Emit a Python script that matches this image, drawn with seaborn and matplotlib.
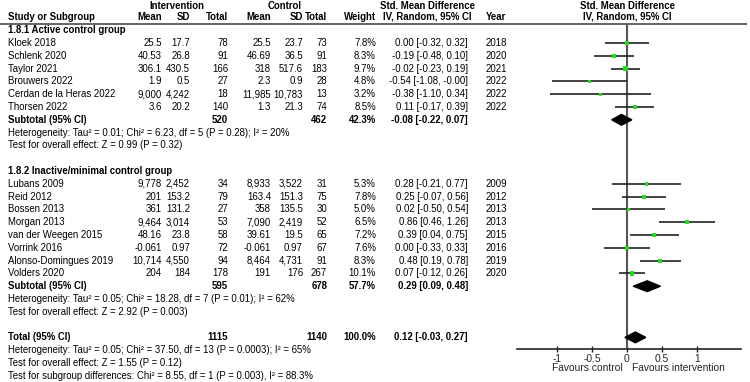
"""Forest plot — Std. Mean Difference, IV, Random, 95% CI"""

import numpy as np
import pandas as pd
import matplotlib.pyplot as plt
import seaborn as sns
from matplotlib.patches import Polygon

# ---- 数据 ----
study = ['Kloek 2018', 'Schlenk 2020', 'Taylor 2021', 'Brouwers 2022',
         'Cerdan de la Heras 2022', 'Thorsen 2022',
         'Lubans 2009', 'Reid 2012', 'Bossen 2013', 'Morgan 2013',
         'van der Weegen 2015', 'Vorrink 2016', 'Alonso-Domingues 2019', 'Volders 2020']
group = [1, 1, 1, 1, 1, 1, 2, 2, 2, 2, 2, 2, 2, 2]
year = ['2018', '2020', '2021', '2022', '2022', '2022',
        '2009', '2012', '2013', '2013', '2015', '2016', '2019', '2020']
int_mean = ['25.5', '40.53', '306.1', '1.9', '9,000', '3.6',
            '9,778', '201', '361', '9,464', '48.16', '-0.061', '10,714', '204']
int_sd = ['17.7', '26.8', '430.5', '0.5', '4,242', '20.2',
          '2,452', '153.2', '131.2', '3,014', '23.8', '0.97', '4,550', '184']
int_n = ['78', '91', '166', '27', '18', '140',
         '34', '79', '27', '53', '58', '72', '94', '178']
ctl_mean = ['25.5', '46.69', '318', '2.3', '11,985', '1.3',
            '8,933', '163.4', '358', '7,090', '39.61', '-0.061', '8,464', '191']
ctl_sd = ['23.7', '36.5', '517.6', '0.9', '10,783', '21.3',
          '3,522', '151.3', '135.5', '2,419', '19.5', '0.97', '4,731', '176']
ctl_n = ['73', '91', '183', '28', '13', '74',
         '31', '75', '30', '52', '65', '67', '91', '267']
weight = [7.8, 8.3, 9.7, 4.8, 3.2, 8.5, 5.3, 7.8, 5.0, 6.5, 7.2, 7.6, 8.3, 10.1]
smd = [0.00, -0.19, -0.02, -0.54, -0.38, 0.11,
       0.28, 0.25, 0.02, 0.86, 0.39, 0.00, 0.48, 0.07]
ci_lo = [-0.32, -0.48, -0.23, -1.08, -1.10, -0.17,
         -0.21, -0.07, -0.50, 0.46, 0.04, -0.33, 0.19, -0.12]
ci_hi = [0.32, 0.10, 0.19, -0.00, 0.34, 0.39,
         0.77, 0.56, 0.54, 1.26, 0.75, 0.33, 0.78, 0.26]

group_title = ['1.8.1 Active control group', '1.8.2 Inactive/minimal control group']
sub_int_n = ['520', '595']
sub_ctl_n = ['462', '678']
sub_weight = ['42.3%', '57.7%']
sub_smd = [-0.08, 0.29]
sub_lo = [-0.22, 0.09]
sub_hi = [0.07, 0.48]
sub_het = ['Heterogeneity: Tau² = 0.01; Chi² = 6.23, df = 5 (P = 0.28); I² = 20%',
           'Heterogeneity: Tau² = 0.05; Chi² = 18.28, df = 7 (P = 0.01); I² = 62%']
sub_z = ['Test for overall effect: Z = 0.99 (P = 0.32)',
         'Test for overall effect: Z = 2.92 (P = 0.003)']

tot_int_n, tot_ctl_n, tot_weight = '1115', '1140', '100.0%'
tot_smd, tot_lo, tot_hi = 0.12, -0.03, 0.27
tot_text = ['Heterogeneity: Tau² = 0.05; Chi² = 37.50, df = 13 (P = 0.0003); I² = 65%',
            'Test for overall effect: Z = 1.55 (P = 0.12)',
            'Test for subgroup differences: Chi² = 8.55, df = 1 (P = 0.003), I² = 88.3%']

ticks = [-1, -0.5, 0, 0.5, 1]
tick_labels = ['-1', '-0.5', '0', '0.5', '1']

# ---- 版面 (像素) ----
W, H = 750, 382
Y0, ROW = 43, 12.8           # 第一行位置与行高
ZERO_PX, UNIT_PX = 627, 69.6  # 森林图 0 点与单位长度
FL, FR, FT, FB = 517, 741, 24, 349

sns.set_theme(style='white')
plt.rcParams['font.family'] = ['Liberation Sans', 'DejaVu Sans']
FS = 6.9

def px2row(y):
    return (y - Y0) / ROW

# 行号
rows = []
r = 0
for g in (1, 2):
    if g == 2:
        r = 11
    for k in range(group.count(g)):
        rows.append(r)
        r += 1
sub_row = [6, 19]
title_row = [-1, 10]
tot_row = 23

df = pd.DataFrame({'smd': smd, 'lo': ci_lo, 'hi': ci_hi, 'w': weight, 'row': rows})

fig = plt.figure(figsize=(W / 100, H / 100), dpi=100)
fig.patch.set_facecolor('white')

# 表格部分
ax_t = fig.add_axes([0, 0, 1, 1])
ax_t.set_xlim(0, W)
ax_t.set_ylim(px2row(H), px2row(0))
ax_t.axis('off')

XL = 8
cols_r = [162, 190, 228, 271, 303, 327, 376]
X_CI, X_YEAR = 468, 486

def txt(x, y, s, ha='left', bold=False):
    ax_t.text(x, y, s, ha=ha, va='center', fontsize=FS,
              fontweight='bold' if bold else 'normal', color='black')

# 表头
hr1, hr2 = px2row(6), px2row(17)
txt(177, hr1, 'Intervention', ha='center', bold=True)
txt(285, hr1, 'Control', ha='center', bold=True)
txt(427, hr1, 'Std. Mean Difference', ha='center', bold=True)
txt(ZERO_PX, hr1, 'Std. Mean Difference', ha='center', bold=True)
txt(XL, hr2, 'Study or Subgroup', bold=True)
for x, s in zip(cols_r, ['Mean', 'SD', 'Total', 'Mean', 'SD', 'Total', 'Weight']):
    txt(x, hr2, s, ha='right', bold=True)
txt(427, hr2, 'IV, Random, 95% CI', ha='center', bold=True)
txt(X_YEAR, hr2, 'Year', bold=True)
txt(ZERO_PX, hr2, 'IV, Random, 95% CI', ha='center', bold=True)
ax_t.plot([0, 747], [px2row(FT)] * 2, color='#4a4a4a', lw=1.2, solid_capstyle='butt')

# 研究行
for i in range(len(study)):
    y = rows[i]
    txt(XL, y, study[i])
    vals = [int_mean[i], int_sd[i], int_n[i], ctl_mean[i], ctl_sd[i], ctl_n[i],
            f'{weight[i]:.1f}%']
    for x, s in zip(cols_r, vals):
        txt(x, y, s, ha='right')
    txt(X_CI, y, f'{smd[i]:.2f} [{ci_lo[i]:.2f}, {ci_hi[i]:.2f}]', ha='right')
    txt(X_YEAR, y, year[i])

# 亚组
for g in range(2):
    txt(XL, title_row[g], group_title[g], bold=True)
    y = sub_row[g]
    txt(XL, y, 'Subtotal (95% CI)', bold=True)
    txt(cols_r[2], y, sub_int_n[g], ha='right', bold=True)
    txt(cols_r[5], y, sub_ctl_n[g], ha='right', bold=True)
    txt(cols_r[6], y, sub_weight[g], ha='right', bold=True)
    txt(X_CI, y, f'{sub_smd[g]:.2f} [{sub_lo[g]:.2f}, {sub_hi[g]:.2f}]', ha='right', bold=True)
    txt(XL, y + 1, sub_het[g])
    txt(XL, y + 2, sub_z[g])

# 合计
txt(XL, tot_row, 'Total (95% CI)', bold=True)
txt(cols_r[2], tot_row, tot_int_n, ha='right', bold=True)
txt(cols_r[5], tot_row, tot_ctl_n, ha='right', bold=True)
txt(cols_r[6], tot_row, tot_weight, ha='right', bold=True)
txt(X_CI, tot_row, f'{tot_smd:.2f} [{tot_lo:.2f}, {tot_hi:.2f}]', ha='right', bold=True)
for k, s in enumerate(tot_text):
    txt(XL, tot_row + 1 + k, s)

# 森林图部分
ax_f = fig.add_axes([FL / W, (H - FB) / H, (FR - FL) / W, (FB - FT) / H])
ax_f.set_facecolor('none')
ax_f.set_xlim((FL - ZERO_PX) / UNIT_PX, (FR - ZERO_PX) / UNIT_PX)
ax_f.set_ylim(px2row(FB), px2row(FT))
ax_f.axvline(0, color='#555555', lw=1.5, zorder=1)
ax_f.hlines(df['row'], df['lo'], df['hi'], color='#222222', lw=1.2, zorder=2)
sns.scatterplot(data=df, x='smd', y='row', size='w', sizes=(5, 10), marker='s',
                color='#22dd22', edgecolor='none', legend=False, zorder=3, ax=ax_f)

# 菱形 (亚组 + 合计)
for c, lo, hi, y in zip(sub_smd + [tot_smd], sub_lo + [tot_lo], sub_hi + [tot_hi],
                        sub_row + [tot_row]):
    dh = 0.42
    ax_f.add_patch(Polygon([[lo, y], [c, y - dh], [hi, y], [c, y + dh]],
                           closed=True, color='black', zorder=4))

for s in ('top', 'left', 'right'):
    ax_f.spines[s].set_visible(False)
ax_f.spines['bottom'].set_color('#222222')
ax_f.spines['bottom'].set_linewidth(1.2)
ax_f.set_yticks([])
ax_f.set_xticks(ticks)
ax_f.set_xticklabels(tick_labels, fontsize=FS + 0.5)
ax_f.tick_params(axis='x', direction='inout', length=5, width=1, color='#222222', pad=1,
                 bottom=True)
ax_f.set_xlabel('')
ax_f.set_ylabel('')
yfav = (FB - 368) / (FB - FT)
ax_f.text(-0.06, yfav, 'Favours control', ha='right', va='center', fontsize=FS + 0.5,
          transform=ax_f.get_xaxis_transform())
ax_f.text(0.07, yfav, 'Favours intervention', ha='left', va='center', fontsize=FS + 0.5,
          transform=ax_f.get_xaxis_transform())

fig.savefig('out.png', dpi=100, facecolor='white')
